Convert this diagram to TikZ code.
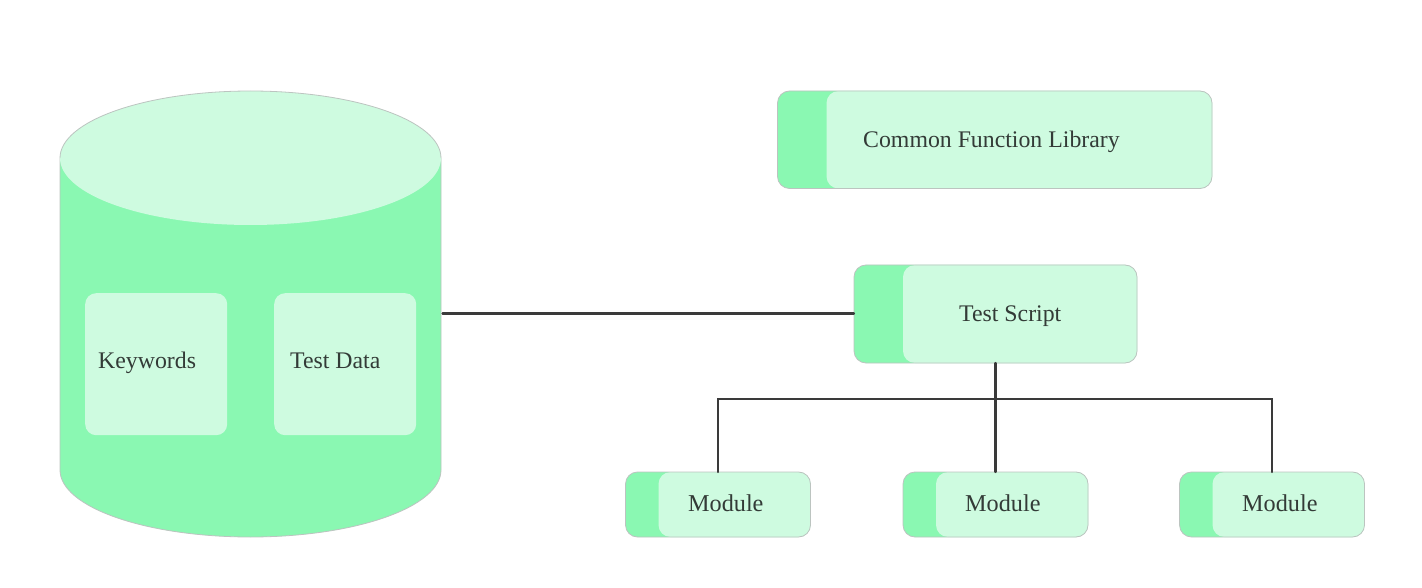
\documentclass[tikz,border=0pt]{standalone}
\usepackage{fontspec}
\setmainfont{Liberation Serif}
\definecolor{gdark}{HTML}{8AF8B2}
\definecolor{glight}{HTML}{CEFBE0}
\definecolor{edgegrey}{HTML}{BCC4C0}
\definecolor{linedark}{HTML}{3A3A3A}
\definecolor{textdark}{HTML}{333B37}
\tikzset{
  outercard/.style={fill=gdark,rounded corners=12pt,anchor=north west,inner sep=0pt,outer sep=0pt},
  cardtext/.style={text=textdark,font=\fontsize{23.8}{26}\selectfont,inner sep=0pt,anchor=base west},
  modtext/.style={text=textdark,font=\fontsize{24.2}{26}\selectfont,inner sep=0pt,anchor=base west},
  databox/.style={fill=glight,rounded corners=11pt,minimum width=142pt,minimum height=142pt,inner sep=0pt,anchor=north west},
  conn/.style={draw=linedark,line width=2.1pt,line cap=round,line join=miter},
  rim/.style={draw=edgegrey,line width=0.8pt}
}
\newcommand{\card}[6]{% name, x, y, w, h, inner offset
  \node[outercard,minimum width=#4pt,minimum height=#5pt] (#1) at (#2,#3) {};
  \begin{scope}
    \clip[rounded corners=12pt] (#2,#3) rectangle ++(#4,#5);
    \fill[glight,rounded corners=12pt] (#2+#6,#3) rectangle ++(#4-#6+20,#5);
  \end{scope}
  \draw[rim,rounded corners=12pt] (#2,#3) rectangle ++(#4,#5);
}
\begin{document}
\begin{tikzpicture}[x=1pt,y=-1pt]
\useasboundingbox (0,0) rectangle (1422,588);
\fill[white] (0,0) rectangle (1422,588);
% cylinder
\path[fill=gdark] (60,158) -- (60,470) arc[start angle=180,end angle=360,x radius=190.5pt,y radius=67pt] -- (441,158) -- cycle;
\draw[rim] (60,158) -- (60,470) arc[start angle=180,end angle=360,x radius=190.5pt,y radius=67pt] -- (441,158);
\fill[glight] (250.5,158) ellipse[x radius=190.5pt,y radius=67pt];
\draw[rim] (60,158) arc[start angle=180,end angle=0,x radius=190.5pt,y radius=67pt];
\node[inner sep=0pt,outer sep=0pt,minimum width=383pt,minimum height=446pt] (db) at (251,313.5) {};
\node[databox] (kw) at (85,293) {};
\node[databox] (td) at (274,293) {};
\node[cardtext] (kwt) at (98,368.7) {Keywords};
\node[cardtext] (tdt) at (290,368.7) {Test Data};
% cards
\card{lib}{777.5}{91}{434.5}{97.5}{49}
\card{script}{854}{265}{283}{98}{49}
\card{mod1}{625.5}{472}{185}{65}{33}
\card{mod2}{903}{472}{185}{65}{33}
\card{mod3}{1179.5}{472}{185}{65}{33}
\node[cardtext] (libt) at (863,147.8) {Common Function Library};
\node[cardtext] (scrt) at (959,321.8) {Test Script};
\node[modtext] (m1t) at (688,511.7) {Module};
\node[modtext] (m2t) at (965,511.7) {Module};
\node[modtext] (m3t) at (1242,511.7) {Module};
% connectors
\coordinate (bus) at (0,398.6);
\draw[conn] (db.east) -- (script.west |- db.east);
\draw[conn] (script.south) -- (mod2.north);
\draw[conn] (mod1.north) -- (mod1.north |- bus) -- (mod3.north |- bus) -- (mod3.north);
\end{tikzpicture}
\end{document}
